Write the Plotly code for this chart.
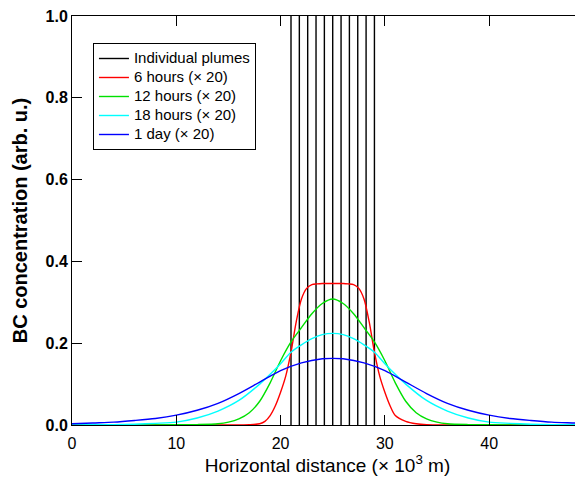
import plotly.graph_objects as go

# ---- data ----
# individual plume positions (x 10^3 m) and their drawn height
plume_x = [21.0, 21.8, 22.6, 23.4, 24.2, 25.0, 25.8, 26.6, 27.4, 28.2, 29.0]
plume_top = 1.0

# 6 hours (x 20)
x_6h = [0, 10, 16, 17, 18, 18.5, 19, 19.5, 20, 20.5, 21, 21.5, 22, 22.5, 23, 23.5, 24, 25,
        26, 26.5, 27, 27.5, 28, 28.5, 29, 29.5, 30, 30.5, 31, 32, 33, 34, 40, 49]
y_6h = [0.0, 0.0, 0.0, 0.0005, 0.003, 0.009, 0.023, 0.047, 0.08, 0.12, 0.178, 0.252, 0.308, 0.334, 0.343, 0.345, 0.346, 0.346,
        0.346, 0.345, 0.343, 0.334, 0.308, 0.252, 0.178, 0.12, 0.08, 0.047, 0.023, 0.009, 0.003, 0.0005, 0.0, 0.0]

# 12 hours (x 20)
x_12h = [0, 6, 10, 12, 14, 15, 16, 17, 18, 19, 20, 21, 22, 23, 24, 25,
         26, 27, 28, 29, 30, 31, 32, 33, 34, 35, 36, 38, 40, 44, 49]
y_12h = [0.0, 0.0, 0.0005, 0.001, 0.003, 0.007, 0.015, 0.03, 0.058, 0.103, 0.157, 0.203, 0.238, 0.272, 0.297, 0.308,
         0.297, 0.272, 0.238, 0.203, 0.157, 0.103, 0.058, 0.03, 0.015, 0.007, 0.003, 0.001, 0.0005, 0.0, 0.0]

# 18 hours (x 20)
x_18h = [0, 2, 4, 6, 8, 10, 12, 14, 16, 18, 19, 20, 21, 22, 23, 24, 25,
         26, 27, 28, 29, 30, 31, 32, 34, 36, 38, 40, 42, 44, 46, 49]
y_18h = [0.0002, 0.0005, 0.001, 0.002, 0.004, 0.007, 0.017, 0.034, 0.06, 0.1, 0.124, 0.15, 0.178, 0.196, 0.211, 0.221, 0.224,
         0.221, 0.211, 0.196, 0.178, 0.15, 0.124, 0.1, 0.06, 0.034, 0.017, 0.007, 0.004, 0.002, 0.001, 0.0004]

# 1 day (x 20)
x_1d = [0, 2, 4, 6, 8, 10, 12, 14, 16, 18, 20, 22, 24, 25,
        26, 28, 30, 32, 34, 36, 38, 40, 42, 44, 46, 48, 49]
y_1d = [0.003, 0.005, 0.007, 0.011, 0.016, 0.024, 0.036, 0.053, 0.077, 0.105, 0.133, 0.152, 0.162, 0.163,
        0.162, 0.152, 0.133, 0.105, 0.077, 0.053, 0.036, 0.024, 0.016, 0.011, 0.007, 0.005, 0.004]

x_ticks = [0, 10, 20, 30, 40]
y_ticks = [0.0, 0.2, 0.4, 0.6, 0.8, 1.0]

FONT = "Liberation Sans, Arial, sans-serif"


def leg(txt):
    # legend text drawn at 15px while row spacing follows the smaller legend font
    return '<span style="font-size:15px">' + txt + '</span>'


fig = go.Figure()

# plumes as vertical segments, one trace
px, py = [], []
for xp in plume_x:
    px += [xp, xp, None]
    py += [0, plume_top, None]
fig.add_trace(go.Scatter(x=px, y=py, mode="lines", name=leg("Individual plumes"),
                         line=dict(color="black", width=1.4)))

curves = [
    (x_6h, y_6h, "6 hours (× 20)", "#ff0000"),
    (x_12h, y_12h, "12 hours (× 20)", "#00e000"),
    (x_18h, y_18h, "18 hours (× 20)", "#00ffff"),
    (x_1d, y_1d, "1 day (× 20)", "#0000ff"),
]
for xs, ys, nm, col in curves:
    fig.add_trace(go.Scatter(x=xs, y=ys, mode="lines", name=leg(nm),
                             line=dict(color=col, width=1.4, shape="spline", smoothing=0.8)))

# page body has an 8px margin, so the figure is sized to fit the 583x477 window
fig.update_layout(
    width=575, height=469,
    margin=dict(l=64, r=0, t=8, b=52),
    plot_bgcolor="white", paper_bgcolor="white",
    font=dict(family=FONT, color="black", size=16),
    showlegend=True,
    legend=dict(x=0.041, y=0.934, xanchor="left", yanchor="top",
                bgcolor="white", bordercolor="black", borderwidth=1,
                font=dict(family=FONT, size=12, color="black"),
                tracegroupgap=0, itemwidth=30),
    xaxis=dict(range=[0, 49], tickvals=x_ticks, ticks="inside", ticklen=10, tickcolor="black",
               showline=True, linecolor="black", linewidth=1, mirror="ticks",
               showgrid=False, zeroline=False, automargin=False, ticklabelstandoff=4,
               ticklabeloverflow="allow",
               tickfont=dict(family=FONT, size=16),
               title=dict(text="Horizontal distance (× 10<sup>3</sup> m)",
                          font=dict(family=FONT, size=19), standoff=4)),
    yaxis=dict(range=[0, 1.0], tickvals=y_ticks, tickformat=".1f", ticks="inside", ticklen=10,
               tickcolor="black", showline=True, linecolor="black", linewidth=1,
               showgrid=False, zeroline=False, automargin=False, ticklabeloverflow="allow",
               tickfont=dict(family=FONT, size=16, weight="bold"),
               title=dict(text="<b>BC concentration (arb. u.)</b>",
                          font=dict(family=FONT, size=20), standoff=12)),
    yaxis2=dict(range=[0, 1.0], tickvals=y_ticks, ticks="inside", ticklen=10, tickcolor="black",
                overlaying="y", side="right", anchor="x", showline=False, automargin=False,
                showticklabels=False, showgrid=False, zeroline=False),
)

fig.write_html("out.html")
